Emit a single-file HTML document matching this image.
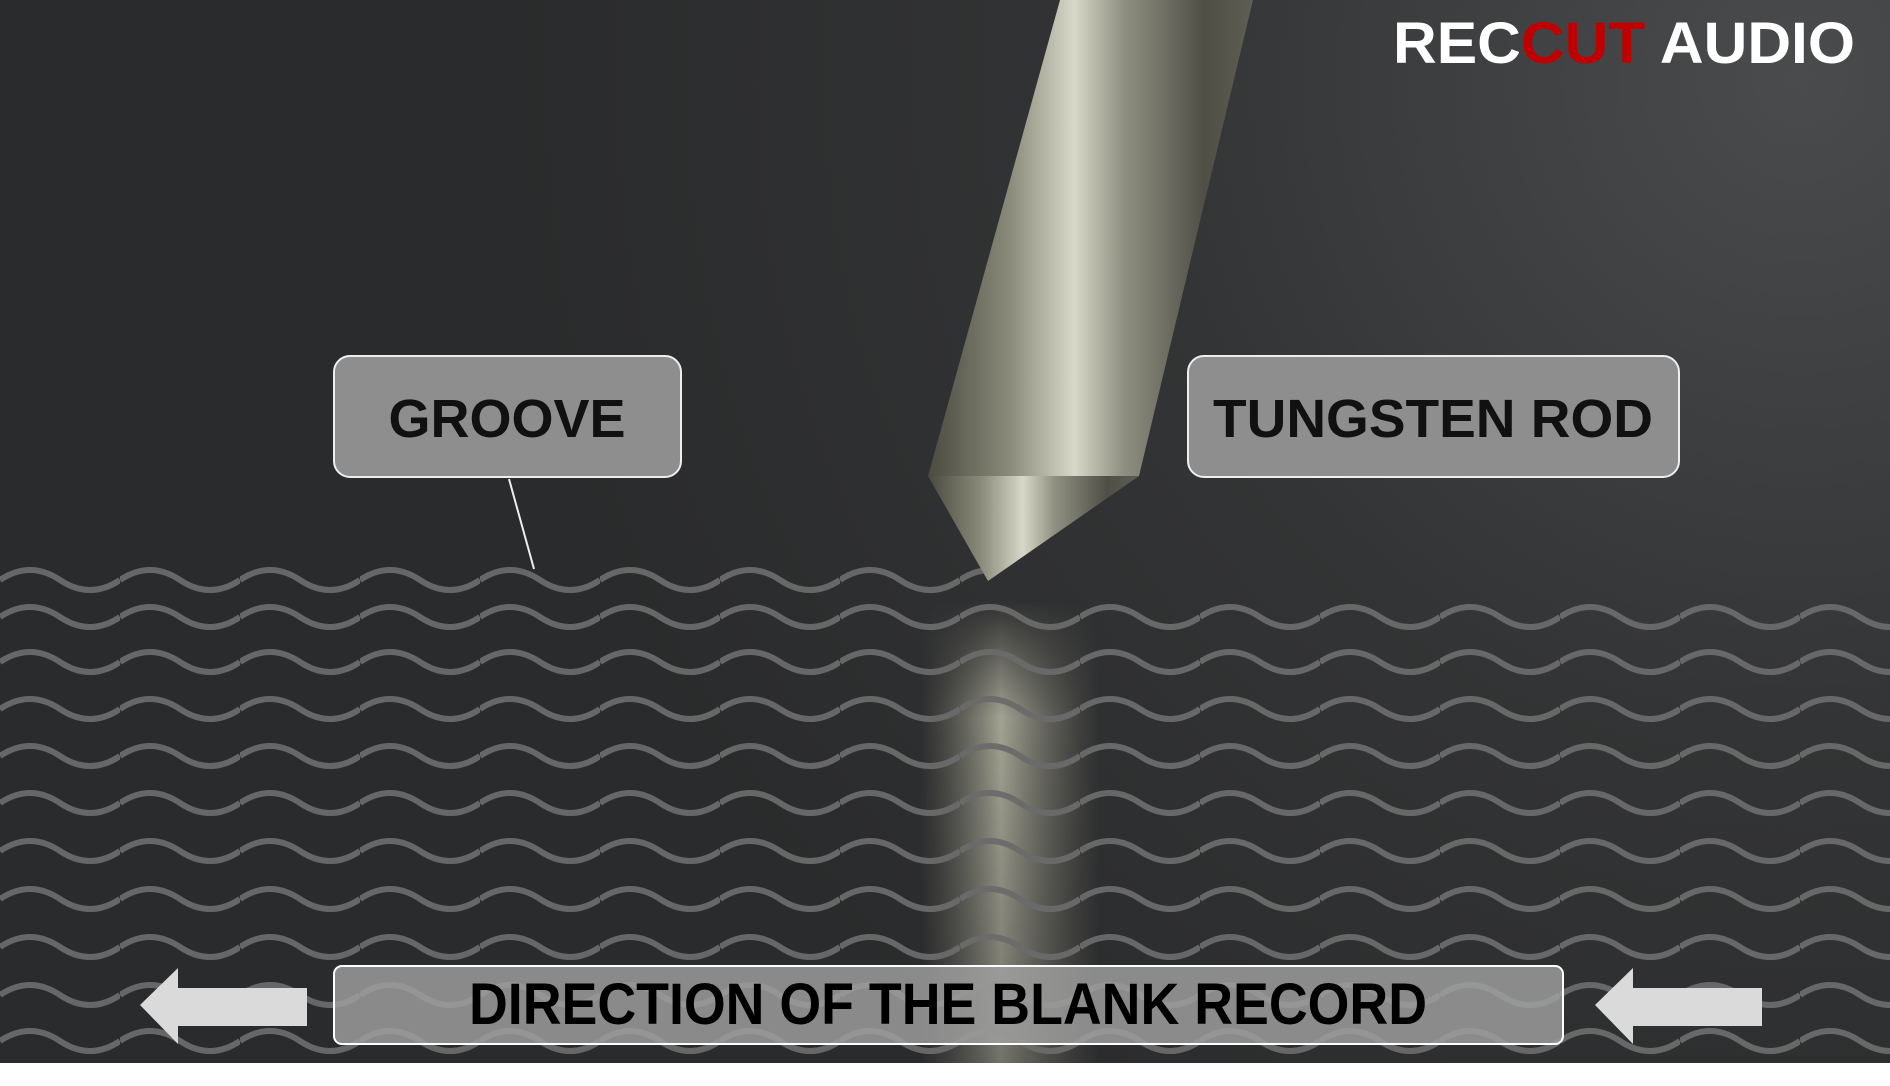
<!DOCTYPE html>
<html><head><meta charset="utf-8"><style>
html,body{margin:0;padding:0;background:#fff}
body{width:1890px;height:1086px;position:relative;overflow:hidden;font-family:"Liberation Sans",sans-serif}
</style></head><body>
<svg width="1890" height="1086" viewBox="0 0 1890 1086" style="position:absolute;left:0;top:0">
<defs>
<radialGradient id="bg" cx="1800" cy="80" r="1300" gradientUnits="userSpaceOnUse">
<stop offset="0" stop-color="#4a4b4d"/><stop offset="0.5" stop-color="#333435"/><stop offset="1" stop-color="#2a2b2c"/></radialGradient>
<linearGradient id="rod" x1="0" y1="0" x2="1" y2="0">
<stop offset="0" stop-color="#4a4a40"/><stop offset="0.25" stop-color="#8a8a7a"/><stop offset="0.45" stop-color="#d8d8c8"/><stop offset="0.6" stop-color="#909082"/><stop offset="0.85" stop-color="#4f4f46"/><stop offset="1" stop-color="#5e5e54"/></linearGradient>
<linearGradient id="refl" x1="0" y1="0" x2="1" y2="0">
<stop offset="0" stop-color="#888878" stop-opacity="0"/><stop offset="0.45" stop-color="#b8b8a4" stop-opacity="0.85"/><stop offset="1" stop-color="#888878" stop-opacity="0"/></linearGradient>
<linearGradient id="reflv" x1="0" y1="0" x2="0" y2="1">
<stop offset="0" stop-color="#fff" stop-opacity="0"/><stop offset="0.25" stop-color="#fff" stop-opacity="1"/><stop offset="1" stop-color="#fff" stop-opacity="0.6"/></linearGradient>
<mask id="rm"><rect x="900" y="600" width="240" height="470" fill="url(#reflv)"/></mask>
<pattern id="wave" x="0" y="0" width="120" height="44" patternUnits="userSpaceOnUse">
<path d="M0 22 Q30 2 60 22 T120 22" fill="none" stroke="#6b6b6b" stroke-width="6"/></pattern>
</defs>
<rect width="1890" height="1063" fill="url(#bg)"/>
<rect x="920" y="600" width="180" height="463" fill="url(#refl)" mask="url(#rm)"/>
<g fill="url(#wave)" opacity="0.95">
<rect x="0" y="0" width="990" height="44" transform="translate(0,558)"/>
<rect x="0" y="0" width="1890" height="44" transform="translate(0,595)"/>
<rect x="0" y="0" width="1890" height="44" transform="translate(0,640)"/>
<rect x="0" y="0" width="1890" height="44" transform="translate(0,687)"/>
<rect x="0" y="0" width="1890" height="44" transform="translate(0,734)"/>
<rect x="0" y="0" width="1890" height="44" transform="translate(0,781)"/>
<rect x="0" y="0" width="1890" height="44" transform="translate(0,829)"/>
<rect x="0" y="0" width="1890" height="44" transform="translate(0,877)"/>
<rect x="0" y="0" width="1890" height="44" transform="translate(0,925)"/>
<rect x="0" y="0" width="1890" height="44" transform="translate(0,973)"/>
<rect x="0" y="0" width="1890" height="44" transform="translate(0,1019)"/>
</g>
<polygon points="1060,0 1253,0 1139,476 928,476" fill="url(#rod)"/>
<polygon points="928,476 1139,476 988,581" fill="url(#rod)"/>
<line x1="509" y1="479" x2="534" y2="569" stroke="#eee" stroke-width="2"/>
<rect x="334" y="356" width="347" height="121" rx="16" fill="#8e8e8e" stroke="#eee" stroke-width="2"/>
<text x="507" y="437" text-anchor="middle" font-family="Liberation Sans" font-weight="bold" font-size="54" fill="#111">GROOVE</text>
<rect x="1188" y="356" width="491" height="121" rx="16" fill="#8e8e8e" stroke="#eee" stroke-width="2"/>
<text x="1433" y="437" text-anchor="middle" font-family="Liberation Sans" font-weight="bold" font-size="54" fill="#111" textLength="440" lengthAdjust="spacingAndGlyphs">TUNGSTEN ROD</text>
<rect x="334" y="966" width="1229" height="78" rx="8" fill="#a0a0a0" fill-opacity="0.82" stroke="#fff" stroke-width="2"/>
<text x="948" y="1024" text-anchor="middle" font-family="Liberation Sans" font-weight="bold" font-size="58" fill="#000" textLength="958" lengthAdjust="spacingAndGlyphs">DIRECTION OF THE BLANK RECORD</text>
<polygon points="140,1005 178,968 178,988 307,988 307,1026 178,1026 178,1044" fill="#dadada"/>
<polygon points="1595,1005 1633,968 1633,988 1762,988 1762,1026 1633,1026 1633,1044" fill="#dadada"/>
<text x="1393" y="63" font-family="Liberation Sans" font-weight="bold" font-size="58" fill="#fff" textLength="462" lengthAdjust="spacingAndGlyphs">REC<tspan fill="#c00000">CUT</tspan> AUDIO</text>
</svg>
</body></html>
